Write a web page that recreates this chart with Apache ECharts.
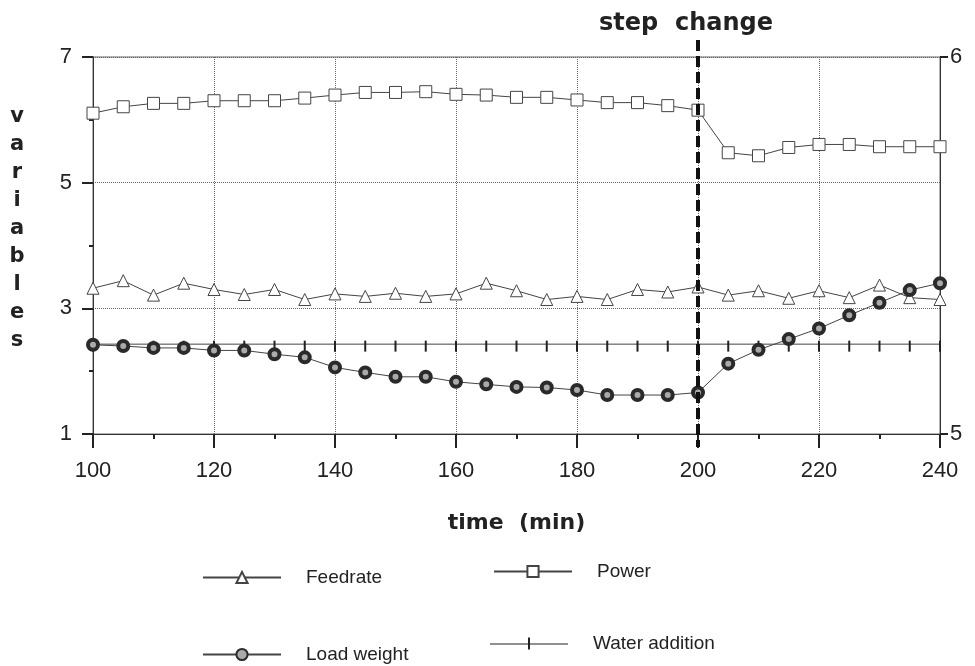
<!DOCTYPE html>
<html>
<head>
<meta charset="utf-8">
<script src="https://cdn.jsdelivr.net/npm/echarts@6/dist/echarts.min.js"></script>
<style>
  html, body { margin: 0; padding: 0; background: #fff; }
  #main { width: 975px; height: 666px; }
</style>
</head>
<body>
<div id="main"></div>
<script>
// time axis (min)
const times = [100, 105, 110, 115, 120, 125, 130, 135, 140, 145, 150, 155, 160, 165, 170,
  175, 180, 185, 190, 195, 200, 205, 210, 215, 220, 225, 230, 235, 240];
// left axis series
const feedrate = [3.32, 3.44, 3.21, 3.40, 3.30, 3.22, 3.30, 3.14, 3.23, 3.19, 3.24, 3.19, 3.23, 3.40, 3.28,
  3.14, 3.19, 3.14, 3.30, 3.26, 3.34, 3.21, 3.28, 3.16, 3.28, 3.17, 3.37, 3.17, 3.14];
const loadWeight = [2.42, 2.40, 2.37, 2.37, 2.33, 2.33, 2.27, 2.22, 2.06, 1.98, 1.91, 1.91, 1.83, 1.79, 1.75,
  1.74, 1.70, 1.62, 1.62, 1.62, 1.66, 2.12, 2.34, 2.51, 2.68, 2.89, 3.09, 3.29, 3.40];
const waterAddition = [2.43, 2.43, 2.43, 2.43, 2.43, 2.43, 2.43, 2.43, 2.43, 2.43, 2.43, 2.43, 2.43, 2.43, 2.43,
  2.43, 2.43, 2.43, 2.43, 2.43, 2.43, 2.43, 2.43, 2.43, 2.43, 2.43, 2.43, 2.43, 2.43];
// right axis series
const power = [5.851, 5.868, 5.877, 5.877, 5.884, 5.884, 5.884, 5.891, 5.899, 5.906, 5.906, 5.908, 5.901, 5.899, 5.893,
  5.893, 5.886, 5.879, 5.879, 5.871, 5.859, 5.746, 5.738, 5.760, 5.768, 5.768, 5.762, 5.762, 5.762];
const stepTime = 200;

const pairs = vals => times.map((t, i) => [t, vals[i]]);
const FONT = 'Liberation Sans, Arial, sans-serif';
const BOLD = 'DejaVu Sans, sans-serif';
const LINE = '#444';

const chart = echarts.init(document.getElementById('main'));

const legendCommon = {
  orient: 'horizontal',
  itemWidth: 78,
  itemHeight: 14,
  padding: 0,
  textStyle: { fontSize: 19, color: '#222', fontFamily: FONT, padding: [0, 0, 0, 20] }
};

const option = {
  animation: false,
  backgroundColor: '#fff',
  grid: { left: 93, right: 35, top: 57, bottom: 232, show: true, borderColor: '#666', borderWidth: 1 },
  xAxis: {
    type: 'value', min: 100, max: 240, interval: 20,
    name: 'time  (min)', nameLocation: 'middle', nameGap: 78,
    nameTextStyle: { fontFamily: BOLD, fontWeight: 'bold', fontSize: 22, color: '#222' },
    axisLine: { lineStyle: { color: '#333', width: 1 } },
    axisTick: { length: 14, lineStyle: { color: '#222', width: 2 } },
    minorTick: { show: true, splitNumber: 2, length: 5, lineStyle: { color: '#222', width: 2 } },
    splitLine: { show: true, lineStyle: { type: 'dotted', color: '#666', width: 1 } },
    axisLabel: { margin: 26, fontSize: 22, color: '#222', fontFamily: FONT }
  },
  yAxis: [
    {
      type: 'value', min: 1, max: 7, interval: 2,
      axisLine: { show: true, lineStyle: { color: '#333', width: 1 } },
      axisTick: { show: true, length: 11, lineStyle: { color: '#222', width: 2 } },
      minorTick: { show: true, splitNumber: 2, length: 4, lineStyle: { color: '#222', width: 2 } },
      splitLine: { show: true, lineStyle: { type: 'dotted', color: '#666', width: 1 } },
      axisLabel: { margin: 21, fontSize: 22, color: '#222', fontFamily: FONT }
    },
    {
      type: 'value', min: 5, max: 6, interval: 1, position: 'right',
      axisLine: { show: true, lineStyle: { color: '#333', width: 1 } },
      axisTick: { show: true, length: 8, lineStyle: { color: '#222', width: 2 } },
      splitLine: { show: false },
      axisLabel: { margin: 10, fontSize: 22, color: '#222', fontFamily: FONT }
    }
  ],
  legend: [
    Object.assign({ left: 202, top: 568, data: ['Feedrate'] }, legendCommon),
    Object.assign({ left: 493, top: 562, data: ['Power'] }, legendCommon),
    Object.assign({ left: 202, top: 645, data: ['Load weight'] }, legendCommon),
    Object.assign({ left: 490, top: 634, data: [{ name: 'Water addition', icon: 'path://M0,6H78V7H0Z M38,0H40V12H38Z' }] }, legendCommon)
  ],
  series: [
    {
      name: 'Water addition', type: 'line', data: pairs(waterAddition), z: 2,
      symbol: 'rect', symbolSize: [2, 11], symbolOffset: [0, 2],
      itemStyle: { color: '#222' },
      lineStyle: { color: LINE, width: 1 }
    },
    {
      name: 'Power', type: 'line', yAxisIndex: 1, data: pairs(power), z: 3,
      symbol: 'rect', symbolSize: 12,
      itemStyle: { color: '#fff', borderColor: '#444', borderWidth: 1 },
      lineStyle: { color: LINE, width: 1 }
    },
    {
      name: 'Feedrate', type: 'line', data: pairs(feedrate), z: 3,
      symbol: 'triangle', symbolSize: 12,
      itemStyle: { color: '#fff', borderColor: '#444', borderWidth: 1 },
      lineStyle: { color: LINE, width: 1 }
    },
    {
      name: 'Load weight', type: 'line', data: pairs(loadWeight), z: 4,
      symbol: 'circle', symbolSize: 10,
      itemStyle: { color: '#aaa', borderColor: '#2a2a2a', borderWidth: 4 },
      lineStyle: { color: LINE, width: 1 }
    }
  ]
};

chart.setOption(option);

// step change marker, placed through the axis scales
const xStep = chart.convertToPixel({ xAxisIndex: 0 }, stepTime);
const yTop = chart.convertToPixel({ yAxisIndex: 0 }, 7);
const yBottom = chart.convertToPixel({ yAxisIndex: 0 }, 1);

chart.setOption({
  graphic: [
    {
      id: 'ylabel', type: 'text', x: 17, y: 103, z: 10,
      style: { text: 'v\na\nr\ni\na\nb\nl\ne\ns', fontFamily: BOLD, fontWeight: 'bold', fontSize: 21,
        lineHeight: 28, fill: '#222', align: 'center', verticalAlign: 'top' }
    },
    {
      id: 'steptext', type: 'text', x: 686, y: 24, z: 10,
      style: { text: 'step  change', fontFamily: BOLD, fontWeight: 'bold', fontSize: 24,
        fill: '#222', align: 'center', verticalAlign: 'middle' }
    },
    {
      id: 'stepline', type: 'line', z: 20,
      shape: { x1: xStep, y1: yTop - 17, x2: xStep, y2: yBottom + 13 },
      style: { stroke: '#111', lineWidth: 4, lineDash: [11, 5] }
    }
  ]
});
</script>
</body>
</html>
